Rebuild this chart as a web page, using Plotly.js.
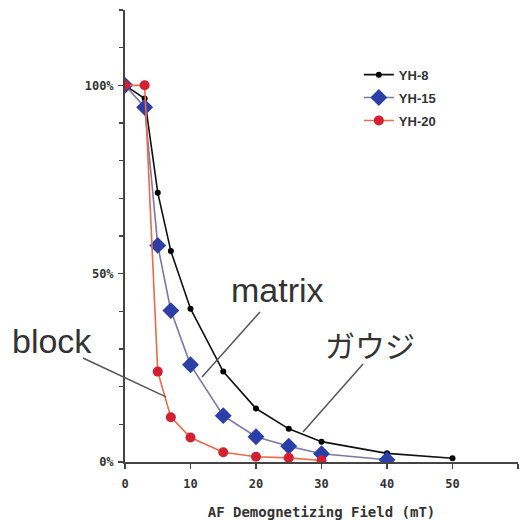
<!DOCTYPE html>
<html>
<head>
<meta charset="utf-8">
<script src="https://cdn.plot.ly/plotly-3.0.1.min.js"></script>
<style>html,body{margin:0;padding:0;background:#fff;}#chart{width:525px;height:520px;}</style>
</head>
<body>
<div id="chart"></div>
<script>
// Data (AF demagnetizing field in mT, remaining intensity in %)
const fieldYH8  = [0, 3, 5, 7, 10, 15, 20, 25, 30, 40, 50];
const valuesYH8 = [100, 96.5, 71.5, 56, 40.7, 24, 14.2, 8.8, 5.4, 2.3, 1];

const fieldYH15  = [0, 3, 5, 7, 10, 15, 20, 25, 30, 40];
const valuesYH15 = [100, 94.2, 57.5, 40.2, 25.8, 12.3, 6.7, 4.2, 2.2, 0.6];

const fieldYH20  = [0, 3, 5, 7, 10, 15, 20, 25, 30];
const valuesYH20 = [100, 100, 24, 11.9, 6.5, 2.6, 1.4, 1.1, 0.4];

const seriesNames = ['YH-8', 'YH-15', 'YH-20'];
const xTicks = [0, 10, 20, 30, 40, 50, 60];
const yTickVals = [0, 50, 100];
const yTickText = ['0%', '50%', '100%'];

const traces = [
  {
    x: fieldYH8, y: valuesYH8, name: seriesNames[0], type: 'scatter', mode: 'lines+markers',
    line: {color: '#111111', width: 1.6},
    marker: {color: '#000000', size: 6, symbol: 'circle'},
    legendgroup: 'a'
  },
  {
    x: fieldYH15, y: valuesYH15, name: seriesNames[1], type: 'scatter', mode: 'lines+markers',
    line: {color: '#7e76a8', width: 1.6},
    marker: {color: '#2a40a8', size: 13, symbol: 'diamond'},
    legendgroup: 'b'
  },
  {
    x: fieldYH20, y: valuesYH20, name: seriesNames[2], type: 'scatter', mode: 'lines+markers',
    line: {color: '#ec6a48', width: 1.6},
    marker: {color: '#d42030', size: 10, symbol: 'circle'},
    legendgroup: 'c'
  }
];

const monoFont = {family: 'DejaVu Sans Mono', size: 12, color: '#333333', weight: 'bold'};

const layout = {
  width: 525, height: 520,
  margin: {l: 125, r: 7, t: 10, b: 58},
  paper_bgcolor: '#ffffff', plot_bgcolor: '#ffffff',
  showlegend: true,
  legend: {
    x: 0.595, y: 0.89, xanchor: 'left', yanchor: 'top',
    font: {family: 'Liberation Sans', size: 13, color: '#333333', weight: 'bold'},
    tracegroupgap: 3, bgcolor: 'rgba(0,0,0,0)'
  },
  xaxis: {
    range: [0, 60], tickvals: xTicks, ticks: 'outside', ticklen: 5, tickwidth: 1.5,
    tickcolor: '#444', showline: true, linecolor: '#444', linewidth: 2,
    showgrid: false, zeroline: false, tickfont: monoFont, ticklabelstandoff: 5,
    title: {text: 'AF Demognetizing Field (mT)', font: {family: 'DejaVu Sans Mono', size: 14, color: '#333333', weight: 'bold'}, standoff: 17}
  },
  yaxis: {
    range: [0, 120], tickvals: yTickVals, ticktext: yTickText, ticks: 'outside', ticklen: 5, tickwidth: 1.5,
    tickcolor: '#444', showline: true, linecolor: '#444', linewidth: 2,
    showgrid: false, zeroline: false, tickfont: monoFont, ticklabelstandoff: 2,
    minor: {dtick: 10, tick0: 0, ticks: 'outside', ticklen: 4, tickcolor: '#444', tickwidth: 1.2, showgrid: false}
  },
  shapes: [
    {type: 'line', xref: 'paper', yref: 'paper', x0: -0.107, y0: 0.230, x1: 0.104, y1: 0.144, line: {color: '#555555', width: 1.5}},
    {type: 'line', xref: 'paper', yref: 'paper', x0: 0.3435, y0: 0.332, x1: 0.196, y1: 0.188, line: {color: '#555555', width: 1.5}},
    {type: 'line', xref: 'paper', yref: 'paper', x0: 0.6056, y0: 0.2168, x1: 0.4529, y1: 0.0664, line: {color: '#555555', width: 1.5}}
  ],
  annotations: [
    {text: 'block', xref: 'paper', yref: 'paper', x: -0.186, y: 0.268, xanchor: 'center', yanchor: 'middle', showarrow: false,
     font: {family: 'Liberation Sans', size: 34, color: '#333333'}},
    {text: 'matrix', xref: 'paper', yref: 'paper', x: 0.387, y: 0.380, xanchor: 'center', yanchor: 'middle', showarrow: false,
     font: {family: 'Liberation Sans', size: 34, color: '#333333'}},
    {text: 'ガウジ', xref: 'paper', yref: 'paper', x: 0.6234, y: 0.261, xanchor: 'center', yanchor: 'middle', showarrow: false,
     font: {family: 'Noto Sans CJK JP', size: 30, color: '#333333'}}
  ]
};

Plotly.newPlot('chart', traces, layout, {staticPlot: true, displayModeBar: false});
</script>
</body>
</html>
